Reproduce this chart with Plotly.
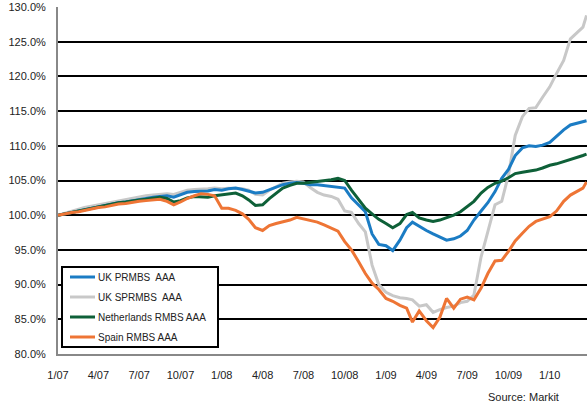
import plotly.graph_objects as go

# Half-monthly observation dates (1st and 16th of each month), plus final print
dates = []
for y in (2007, 2008, 2009, 2010):
    for m in range(1, 13):
        if y == 2010 and m > 3:
            break
        dates.append(f"{y}-{m:02d}-01")
        dates.append(f"{y}-{m:02d}-16")
dates.append("2010-03-24")

uk_prmbs = [100.0, 100.2, 100.4, 100.6, 100.8, 101.0, 101.2, 101.4, 101.6, 101.8, 101.9, 102.1,
            102.2, 102.4, 102.6, 102.7, 102.8, 102.6, 103.0, 103.3, 103.4, 103.4, 103.5, 103.7,
            103.6, 103.8, 103.9, 103.7, 103.5, 103.2, 103.3, 103.7, 104.1, 104.4, 104.6, 104.7,
            104.6, 104.4, 104.4, 104.3, 104.2, 104.0,
            103.9, 102.5, 101.5, 100.5, 97.3, 95.8, 95.6, 94.9, 96.4, 98.2, 99.0, 98.4, 97.8,
            97.3, 96.8, 96.4, 96.6, 97.0, 97.8, 99.3, 100.6, 101.8, 103.4, 105.3, 106.6, 108.6,
            109.7, 110.0, 109.9, 110.1, 110.5, 111.4, 112.3, 113.0, 113.2, 113.4, 113.6]

uk_sprmbs = [100.0, 100.3, 100.6, 100.9, 101.1, 101.3, 101.5, 101.7, 101.9, 102.1, 102.3, 102.5,
             102.6, 102.8, 102.9, 103.0, 103.1, 103.0, 103.3, 103.6, 103.7, 103.7, 103.8, 103.9,
             103.8, 103.9, 103.9, 103.8, 103.6, 103.0, 102.9, 103.6, 104.1, 104.6, 104.8, 104.9,
             104.8, 104.0, 103.3, 102.9, 102.7, 102.3,
             100.6, 100.4, 98.8, 97.6, 92.8, 90.0, 88.9, 88.4, 88.1, 88.0, 87.8, 86.9, 87.1,
             86.0, 86.4, 86.7, 86.9, 87.4, 87.6, 88.5, 94.0, 97.6, 101.5, 102.0, 105.8, 111.5,
             114.2, 115.4, 115.5, 117.0, 118.5, 120.4, 122.3, 125.4, 126.2, 127.1, 128.8]

netherlands = [100.0, 100.2, 100.4, 100.6, 100.8, 101.0, 101.2, 101.4, 101.6, 101.8, 101.9, 102.1,
               102.2, 102.3, 102.5, 102.6, 102.4, 101.9, 102.1, 102.5, 102.7, 102.6, 102.6, 102.8,
               102.9, 103.1, 103.2, 102.8, 102.2, 101.4, 101.5, 102.4, 103.2, 103.9, 104.3, 104.6,
               104.6, 104.7, 104.8, 105.0, 105.1, 105.3,
               105.0, 103.6, 102.2, 101.0, 100.2, 99.4, 98.8, 98.2, 98.8, 100.1, 100.4, 99.6, 99.3,
               99.1, 99.3, 99.6, 100.0, 100.5, 101.2, 102.0, 103.2, 104.0, 104.6, 104.9, 105.4, 106.0,
               106.2, 106.3, 106.5, 106.8, 107.2, 107.4, 107.7, 108.0, 108.3, 108.6, 108.8]

spain = [100.0, 100.2, 100.4, 100.5, 100.7, 100.9, 101.1, 101.2, 101.4, 101.6, 101.7, 101.9,
         102.0, 102.1, 102.2, 102.3, 102.0, 101.5, 101.9, 102.4, 102.8, 103.1, 103.0, 102.8,
         101.0, 101.0, 100.7, 100.2, 99.4, 98.2, 97.8, 98.5, 98.8, 99.0, 99.3, 99.7,
         99.5, 99.3, 99.0, 98.6, 98.1, 97.7,
         96.2, 95.0, 93.3, 91.6, 90.2, 89.3, 88.0, 87.6, 87.0, 86.6, 84.6, 86.2, 84.8,
         83.8, 85.3, 88.0, 86.6, 87.9, 88.2, 87.8, 89.5, 91.6, 93.4, 93.5, 94.8, 96.3,
         97.4, 98.4, 99.1, 99.4, 99.8, 100.6, 102.0, 102.9, 103.4, 103.9, 104.8]

tick_dates = ["2007-01-01", "2007-04-01", "2007-07-01", "2007-10-01",
              "2008-01-01", "2008-04-01", "2008-07-01", "2008-10-01",
              "2009-01-01", "2009-04-01", "2009-07-01", "2009-10-01", "2010-01-01"]
tick_labels = ["1/07", "4/07", "7/07", "10/07", "1/08", "4/08", "7/08", "10/08",
               "1/09", "4/09", "7/09", "10/09", "1/10"]

legend_names = ["UK PRMBS  AAA", "UK SPRMBS  AAA", "Netherlands RMBS AAA", "Spain RMBS AAA"]
colors = {"UK PRMBS  AAA": "#1B7CC4", "UK SPRMBS  AAA": "#C8C8C8",
          "Netherlands RMBS AAA": "#0E6038", "Spain RMBS AAA": "#EE7535"}
values = {"UK PRMBS  AAA": uk_prmbs, "UK SPRMBS  AAA": uk_sprmbs,
          "Netherlands RMBS AAA": netherlands, "Spain RMBS AAA": spain}
draw_order = ["UK SPRMBS  AAA", "UK PRMBS  AAA", "Netherlands RMBS AAA", "Spain RMBS AAA"]

fig = go.Figure()
for name in draw_order:
    fig.add_trace(go.Scatter(x=dates, y=values[name], mode="lines", name=name,
                             line=dict(color=colors[name], width=3), showlegend=False))

# Plot-area geometry in pixels (for placing the boxed legend)
L, R, T, B = 58, 587, 7, 354
def px(x):
    return (x - L) / (R - L)
def py(y):
    return (B - y) / (B - T)

shapes = [dict(type="rect", xref="paper", yref="paper", layer="above",
               x0=px(62), x1=px(218), y0=py(347), y1=py(267),
               fillcolor="white", line=dict(color="black", width=2))]
annotations = []
for i, name in enumerate(legend_names):
    yy = 277 + 20 * i
    shapes.append(dict(type="line", xref="paper", yref="paper", layer="above",
                       x0=px(70), x1=px(95), y0=py(yy), y1=py(yy),
                       line=dict(color=colors[name], width=3)))
    annotations.append(dict(text=name, xref="paper", yref="paper", x=px(96), y=py(yy),
                            xanchor="left", yanchor="middle", showarrow=False,
                            font=dict(size=10, color="#222222")))
annotations.append(dict(text="Source: Markit", xref="paper", yref="paper",
                        x=px(561), y=py(397), xanchor="right", yanchor="middle",
                        showarrow=False, font=dict(size=11, color="#222222")))

font_family = "Liberation Sans, Arial, sans-serif"
fig.update_layout(
    width=587, height=408,
    margin=dict(l=L, r=587 - R, t=T, b=408 - B),
    paper_bgcolor="white", plot_bgcolor="white",
    font=dict(family=font_family, size=11, color="#222222"),
    showlegend=False,
    xaxis=dict(range=["2007-01-01", "2010-03-25"], tickmode="array",
               tickvals=tick_dates, ticktext=tick_labels, showgrid=False,
               showline=True, linecolor="#888888", linewidth=2, ticks="",
               ticklabelstandoff=10, zeroline=False),
    yaxis=dict(range=[80, 130], dtick=5, tick0=80, ticksuffix="%", tickformat=".1f",
               showgrid=True, gridcolor="black", gridwidth=2,
               showline=True, linecolor="#888888", linewidth=2, ticks="",
               ticklabelstandoff=8, zeroline=False),
    shapes=shapes,
    annotations=annotations,
)

fig.write_html("out.html", config={"displayModeBar": False},
               post_script="document.body.style.margin='0';document.body.style.padding='0';")
